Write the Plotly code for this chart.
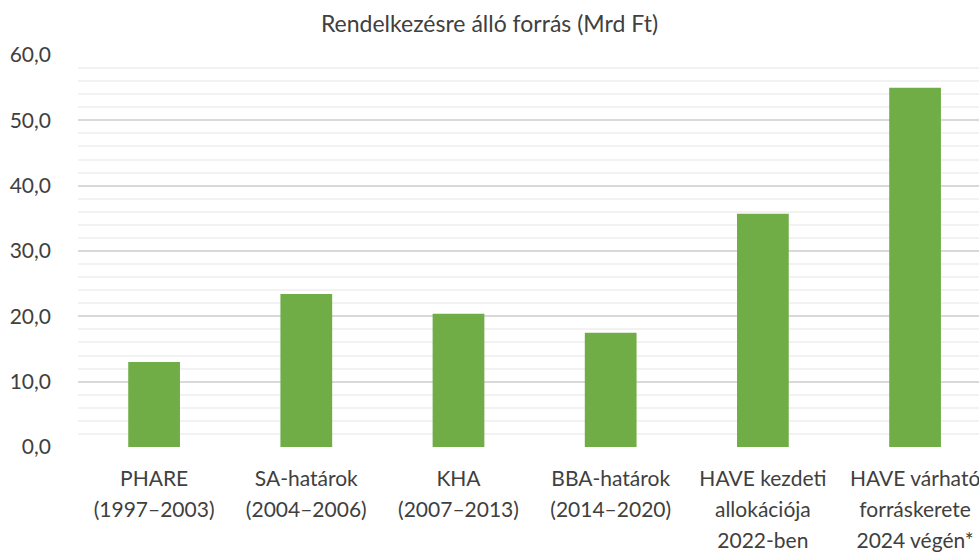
import plotly.graph_objects as go

categories = [
    ["PHARE", "(1997–2003)"],
    ["SA-határok", "(2004–2006)"],
    ["KHA", "(2007–2013)"],
    ["BBA-határok", "(2014–2020)"],
    ["HAVE kezdeti", "allokációja", "2022-ben"],
    ["HAVE várható", "forráskerete", "2024 végén*"],
]
values = [13.0, 23.4, 20.4, 17.5, 35.7, 55.0]
title_text = "Rendelkezésre álló forrás (Mrd Ft)"
y_ticks = [0, 10, 20, 30, 40, 50, 60]

font_family = "Lato, 'Open Sans', sans-serif"

ticktext = ["<br>".join('<span style="font-size:21px">%s</span>' % ln for ln in lines)
            for lines in categories]

fig = go.Figure(go.Bar(
    x=list(range(len(categories))),
    y=values,
    marker=dict(color="#70ad47", line=dict(width=0)),
    width=0.34,
))

fig.update_layout(
    width=979, height=553,
    margin=dict(l=78, r=0, t=55, b=106, autoexpand=False),
    paper_bgcolor="white", plot_bgcolor="white",
    separators=", ",
    showlegend=False,
    title=dict(text=title_text, x=0.5, xref="container", y=1 - 24 / 553, yref="container",
               yanchor="middle", font=dict(family=font_family, size=23, color="#404040")),
    font=dict(family=font_family, size=21, color="#404040"),
)
fig.update_xaxes(
    tickmode="array", tickvals=list(range(len(categories))), ticktext=ticktext,
    range=[-0.5, 5.42], showgrid=False, zeroline=False, showline=False,
    ticks="", automargin=False, ticklabeloverflow="allow", ticklabelstandoff=14,
    tickfont=dict(size=24, color="#404040"),
)
fig.update_yaxes(
    range=[0, 60], tickvals=y_ticks, tickformat=".1f",
    showgrid=True, gridcolor="#d9d9d9", gridwidth=1.5,
    minor=dict(dtick=2, showgrid=True, gridcolor="#f2f2f2", gridwidth=1.5),
    zeroline=False, showline=False, ticks="", ticklabelstandoff=26,
    automargin=False, tickfont=dict(size=21, color="#404040"),
)
fig.write_html("out.html", config={"displayModeBar": False},
               post_script="document.body.style.margin='0';")
